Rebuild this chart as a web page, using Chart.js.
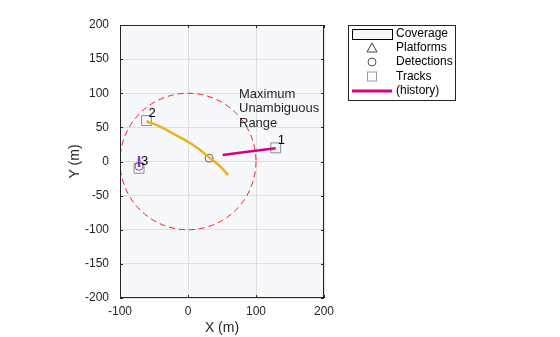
<!DOCTYPE html>
<html>
<head>
<meta charset="utf-8">
<script src="https://cdn.jsdelivr.net/npm/chart.js@4/dist/chart.umd.min.js"></script>
<style>
    html, body { margin: 0; padding: 0; background: #ffffff; }
    #wrap { width: 560px; height: 337px; }
</style>
</head>
<body>
<div id="wrap"><canvas id="theater" width="560" height="337"></canvas></div>
<script>
// values (metres)
const coverageRadius = 100;
const trackIds = ['1', '2', '3'];
const trackX = [129, -61, -72];
const trackY = [20, 60, -10];
const detectionX = [31, -72];
const detectionY = [5, -7];
const history1X = [51, 90, 129];
const history1Y = [9.5, 14.5, 19.5];
const history2X = [-61, -41, -22, -2, 15, 31, 47, 59];
const history2Y = [59, 51, 41, 30, 19, 6, -7, -20];
const history3X = [-72, -72];
const history3Y = [8, -8];
const xTicks = [-100, 0, 100, 200];
const yTicks = [-200, -150, -100, -50, 0, 50, 100, 150, 200];
const legendLabels = ['Coverage', 'Platforms', 'Detections', 'Tracks', '(history)'];
const rangeNote = ['Maximum', 'Unambiguous', 'Range'];

const FONT = 'Helvetica, Arial, "Liberation Sans", sans-serif';
const INK = '#262626';

function zip(xs, ys) {
    return xs.map((x, i) => ({ x: x, y: ys[i] }));
}

const theaterPlugin = {
    id: 'theater',
    beforeDraw(chart) {
        const { ctx, chartArea: a } = chart;
        ctx.save();
        ctx.fillStyle = '#f7f8fb';
        ctx.fillRect(a.left, a.top, a.right - a.left, a.bottom - a.top);
        ctx.restore();
    },
    beforeDatasetsDraw(chart) {
        const { ctx, chartArea: a, scales: { x, y } } = chart;
        const cx = x.getPixelForValue(0);
        const cy = y.getPixelForValue(0);
        const rx = x.getPixelForValue(coverageRadius) - cx;
        const ry = cy - y.getPixelForValue(coverageRadius);
        ctx.save();
        ctx.beginPath();
        ctx.rect(a.left, a.top, a.right - a.left, a.bottom - a.top);
        ctx.clip();
        ctx.strokeStyle = '#ff1a1a';
        ctx.lineWidth = 1;
        ctx.setLineDash([6, 4]);
        ctx.beginPath();
        ctx.ellipse(cx, cy, rx, ry, 0, 0, Math.PI * 2);
        ctx.stroke();
        ctx.restore();
    },
    afterDraw(chart) {
        const { ctx, chartArea: a, scales: { x, y } } = chart;
        ctx.save();

        // box and inward ticks on all four sides
        ctx.strokeStyle = INK;
        ctx.lineWidth = 1;
        ctx.strokeRect(a.left + 0.5, a.top + 0.5, a.right - a.left - 1, a.bottom - a.top - 1);
        ctx.beginPath();
        xTicks.forEach(v => {
            const px = Math.round(x.getPixelForValue(v)) + 0.5;
            ctx.moveTo(px, a.bottom); ctx.lineTo(px, a.bottom - 3);
            ctx.moveTo(px, a.top); ctx.lineTo(px, a.top + 3);
        });
        yTicks.forEach(v => {
            const py = Math.round(y.getPixelForValue(v)) + 0.5;
            ctx.moveTo(a.left, py); ctx.lineTo(a.left + 3, py);
            ctx.moveTo(a.right, py); ctx.lineTo(a.right - 3, py);
        });
        ctx.stroke();

        // track numbers
        ctx.fillStyle = '#000000';
        ctx.font = '13px ' + FONT;
        ctx.textAlign = 'left';
        ctx.textBaseline = 'middle';
        trackIds.forEach((id, i) => {
            ctx.fillText(id, x.getPixelForValue(trackX[i]) + 2, y.getPixelForValue(trackY[i]) - 7);
        });

        // coverage annotation
        ctx.fillStyle = INK;
        const noteX = x.getPixelForValue(75);
        const noteY = y.getPixelForValue(100);
        rangeNote.forEach((line, i) => {
            ctx.fillText(line, noteX, noteY + 1 + i * 14.5);
        });

        // legend
        const lx = 348, ly = 25, lw = 107, lh = 75;
        ctx.fillStyle = '#ffffff';
        ctx.fillRect(lx, ly, lw, lh);
        ctx.strokeStyle = INK;
        ctx.lineWidth = 1;
        ctx.strokeRect(lx + 0.5, ly + 0.5, lw, lh);
        const rows = [34, 48, 62, 76.5, 91];
        const sx = 372;
        ctx.font = '12px ' + FONT;
        ctx.fillStyle = '#000000';
        legendLabels.forEach((label, i) => {
            ctx.fillText(label, 396, rows[i]);
        });
        // coverage sample
        ctx.fillStyle = '#f7f8fb';
        ctx.fillRect(352, rows[0] - 5, 40, 10);
        ctx.strokeStyle = '#000000';
        ctx.strokeRect(352.5, rows[0] - 4.5, 40, 10);
        // platforms triangle
        ctx.strokeStyle = '#404040';
        ctx.beginPath();
        ctx.moveTo(sx, rows[1] - 5);
        ctx.lineTo(sx + 5, rows[1] + 4);
        ctx.lineTo(sx - 5, rows[1] + 4);
        ctx.closePath();
        ctx.stroke();
        // detections circle
        ctx.strokeStyle = '#555555';
        ctx.beginPath();
        ctx.arc(sx, rows[2], 4, 0, Math.PI * 2);
        ctx.stroke();
        // tracks square
        ctx.strokeStyle = '#9a9a9a';
        ctx.strokeRect(sx - 4.5, rows[3] - 4.5, 9, 9);
        // history line
        ctx.strokeStyle = '#d4008c';
        ctx.lineWidth = 3;
        ctx.beginPath();
        ctx.moveTo(352, rows[4]);
        ctx.lineTo(392, rows[4]);
        ctx.stroke();

        ctx.restore();
    }
};

new Chart(document.getElementById('theater'), {
    type: 'scatter',
    data: {
        datasets: [
            {
                label: 'Tracks',
                data: zip(trackX, trackY),
                pointStyle: 'rect',
                pointRadius: 7,
                backgroundColor: 'rgba(0,0,0,0)',
                borderColor: '#8c8c8c',
                borderWidth: 1,
                order: 3
            },
            {
                label: 'Detections',
                data: zip(detectionX, detectionY),
                pointStyle: 'circle',
                pointRadius: 4,
                backgroundColor: 'rgba(0,0,0,0)',
                borderColor: '#666666',
                borderWidth: 1,
                order: 2
            },
            {
                label: 'history 1',
                data: zip(history1X, history1Y),
                showLine: true,
                pointRadius: 0,
                borderColor: '#d4008c',
                borderWidth: 2.5,
                order: 1
            },
            {
                label: 'history 2',
                data: zip(history2X, history2Y),
                showLine: true,
                tension: 0.4,
                pointRadius: 0,
                borderColor: '#edb120',
                borderWidth: 2.5,
                order: 1
            },
            {
                label: 'history 3',
                data: zip(history3X, history3Y),
                showLine: true,
                pointRadius: 0,
                borderColor: '#8b35cf',
                borderWidth: 2.5,
                order: 1
            }
        ]
    },
    options: {
        responsive: false,
        animation: false,
        events: [],
        layout: {
            padding: { left: 0, top: 25, right: 236, bottom: 0 }
        },
        plugins: {
            legend: { display: false },
            tooltip: { enabled: false }
        },
        scales: {
            x: {
                type: 'linear',
                min: -100,
                max: 200,
                afterBuildTicks: scale => { scale.ticks = xTicks.map(v => ({ value: v })); },
                afterFit: scale => { scale.height = 39; },
                ticks: {
                    color: INK,
                    padding: 6,
                    font: { family: FONT, size: 12 }
                },
                grid: { color: '#dedede', drawTicks: false },
                border: { display: false },
                title: {
                    display: true,
                    text: 'X (m)',
                    color: INK,
                    padding: { top: 0, bottom: 0 },
                    font: { family: FONT, size: 14 }
                }
            },
            y: {
                type: 'linear',
                min: -200,
                max: 200,
                afterBuildTicks: scale => { scale.ticks = yTicks.map(v => ({ value: v })); },
                afterFit: scale => { scale.width = 120; },
                ticks: {
                    color: INK,
                    padding: 11,
                    font: { family: FONT, size: 12 }
                },
                grid: { color: '#dedede', drawTicks: false },
                border: { display: false },
                title: {
                    display: true,
                    text: 'Y (m)',
                    color: INK,
                    padding: { top: 67, bottom: 0 },
                    font: { family: FONT, size: 14 }
                }
            }
        }
    },
    plugins: [theaterPlugin]
});
</script>
</body>
</html>
